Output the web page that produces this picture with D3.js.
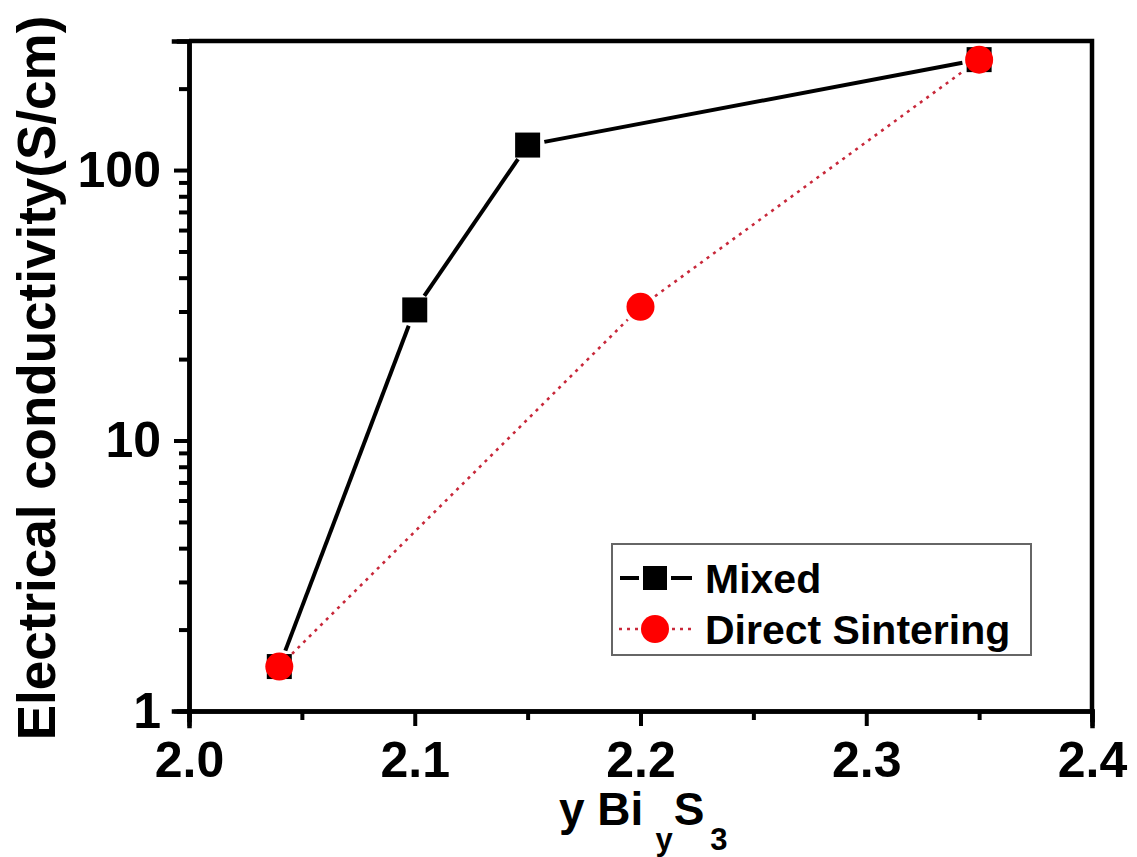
<!DOCTYPE html>
<html>
<head>
<meta charset="utf-8">
<script src="https://cdn.jsdelivr.net/npm/d3@7"></script>
<style>
  html, body { margin: 0; padding: 0; background: #fff; }
  svg { display: block; }
  text { font-family: "Liberation Sans", Arial, sans-serif; font-weight: bold; }
</style>
</head>
<body>
<svg id="chart" width="1137" height="857"></svg>
<script>
// ---- data ----
const xMixed = [2.04, 2.10, 2.15, 2.35];
const yMixed = [1.46, 30.4, 123.7, 256];
const xDirect = [2.04, 2.20, 2.35];
const yDirect = [1.46, 31.2, 256];
const xTicks = [2.0, 2.1, 2.2, 2.3, 2.4];
const xMinorTicks = [2.05, 2.15, 2.25, 2.35];
const yTicks = [1, 10, 100];
const yMinorTicks = [2, 3, 4, 5, 6, 7, 8, 9, 20, 30, 40, 50, 60, 70, 80, 90, 200];
const seriesNames = ["Mixed", "Direct Sintering"];

// ---- layout ----
const svg = d3.select("#chart");
const L = 189, R = 1092, T = 41, B = 711;
const x = d3.scaleLinear().domain([2.0, 2.4]).range([L, R]);
const y = d3.scaleLog().domain([1, 300]).range([B, T]);

// frame (top & right)
svg.append("path")
  .attr("d", `M${L},${T}H${R}V${B}`)
  .attr("fill", "none").attr("stroke", "#000").attr("stroke-width", 4.5)
  .attr("stroke-linejoin", "miter");

function styleAxis(g) {
  g.select(".domain").attr("stroke-width", 4.5).attr("stroke", "#000");
  g.selectAll(".tick line").attr("stroke-width", 4).attr("stroke", "#000");
  g.selectAll(".tick text").attr("font-size", 50).attr("fill", "#000")
    .attr("font-family", '"Liberation Sans", Arial, sans-serif').attr("font-weight", "bold");
}

// x minor
const gxm = svg.append("g").attr("transform", `translate(0,${B})`)
  .call(d3.axisBottom(x).tickValues(xMinorTicks).tickSize(9).tickFormat(""));
styleAxis(gxm);
// x major
const gx = svg.append("g").attr("transform", `translate(0,${B})`)
  .call(d3.axisBottom(x).tickValues(xTicks).tickSize(15).tickPadding(15).tickFormat(d3.format(".1f")));
styleAxis(gx);

// y minor
const gym = svg.append("g").attr("transform", `translate(${L},0)`)
  .call(d3.axisLeft(y).tickValues(yMinorTicks).tickSize(10).tickFormat(""));
styleAxis(gym);
// y major
const gy = svg.append("g").attr("transform", `translate(${L},0)`)
  .call(d3.axisLeft(y).tickValues(yTicks).tickSize(15).tickPadding(13).tickFormat(d3.format("d")));
styleAxis(gy);
svg.selectAll(".domain").attr("stroke-linecap", "square");

// ---- series lines with gaps at markers ----
function gappedSegments(xs, ys, gap) {
  const pts = xs.map((v, i) => [x(v), y(ys[i])]);
  const segs = [];
  for (let i = 0; i < pts.length - 1; i++) {
    const [x0, y0] = pts[i], [x1, y1] = pts[i + 1];
    const dx = x1 - x0, dy = y1 - y0, len = Math.hypot(dx, dy);
    const ux = dx / len, uy = dy / len;
    segs.push([[x0 + ux * gap, y0 + uy * gap], [x1 - ux * gap, y1 - uy * gap]]);
  }
  return segs;
}
const line = d3.line();

svg.append("g").selectAll("path")
  .data(gappedSegments(xMixed, yMixed, 17))
  .join("path")
  .attr("d", d => line(d))
  .attr("stroke", "#000").attr("stroke-width", 4).attr("fill", "none");

svg.append("g").selectAll("path")
  .data(gappedSegments(xDirect, yDirect, 18))
  .join("path")
  .attr("d", d => line(d))
  .attr("stroke", "#c8283a").attr("stroke-width", 2.6).attr("fill", "none")
  .attr("stroke-dasharray", "3,5");

// markers
const sq = 25;
svg.append("g").selectAll("rect")
  .data(xMixed.map((v, i) => [v, yMixed[i]]))
  .join("rect")
  .attr("x", d => x(d[0]) - sq / 2).attr("y", d => y(d[1]) - sq / 2)
  .attr("width", sq).attr("height", sq)
  .attr("fill", "#000");

svg.append("g").selectAll("circle")
  .data(xDirect.map((v, i) => [v, yDirect[i]]))
  .join("circle")
  .attr("cx", d => x(d[0])).attr("cy", d => y(d[1]))
  .attr("r", 14).attr("fill", "#ff0000");

// ---- axis titles ----
svg.append("text")
  .attr("transform", `translate(55,378) rotate(-90)`)
  .attr("text-anchor", "middle")
  .attr("font-size", 53)
  .attr("fill", "#000")
  .text("Electrical conductivity(S/cm)");

const xt = svg.append("text")
  .attr("x", 559).attr("y", 825)
  .attr("font-size", 46).attr("fill", "#000");
xt.append("tspan").text("y Bi");
xt.append("tspan").attr("dx", 12).attr("dy", 25).attr("font-size", 31).text("y");
xt.append("tspan").attr("dx", 1).attr("dy", -25).text("S");
xt.append("tspan").attr("dx", 6).attr("dy", 25).attr("font-size", 31).text("3");

// ---- legend ----
const lg = svg.append("g");
lg.append("rect")
  .attr("x", 612).attr("y", 544).attr("width", 419).attr("height", 111)
  .attr("fill", "#fff").attr("stroke", "#666").attr("stroke-width", 2);

const r1 = 578, r2 = 629;
lg.append("path").attr("d", `M620,${r1}H639M671,${r1}H692`)
  .attr("stroke", "#000").attr("stroke-width", 4);
lg.append("rect").attr("x", 643).attr("y", r1 - 12).attr("width", 24).attr("height", 24).attr("fill", "#000");
lg.append("path").attr("d", `M619,${r2}H638M672,${r2}H693`)
  .attr("stroke", "#c8283a").attr("stroke-width", 2.4).attr("stroke-dasharray", "3,5");
lg.append("circle").attr("cx", 655).attr("cy", r2).attr("r", 14).attr("fill", "#ff0000");

lg.selectAll("text.leg")
  .data(seriesNames)
  .join("text")
  .attr("class", "leg")
  .attr("x", 705).attr("y", (d, i) => (i === 0 ? r1 : r2) + 15)
  .attr("font-size", 41).attr("fill", "#000")
  .text(d => d);
</script>
</body>
</html>
